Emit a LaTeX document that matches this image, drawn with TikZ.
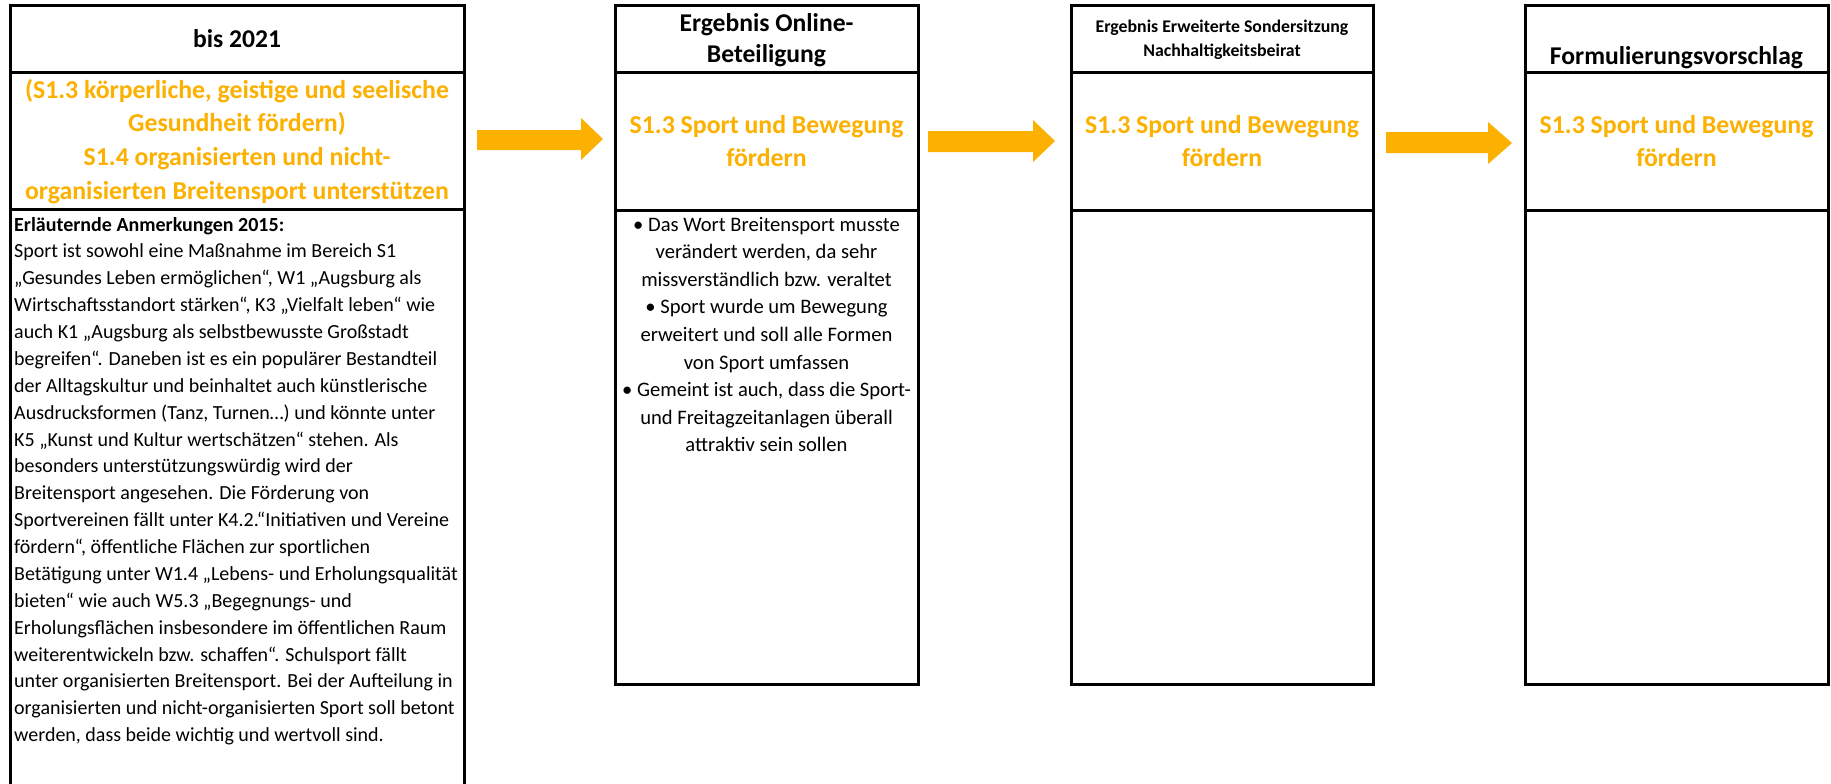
\documentclass[tikz,border=0pt]{standalone}
\usepackage{fontspec}
\setmainfont{Carlito}
\definecolor{gold}{RGB}{252,176,0}
\begin{document}
\begin{tikzpicture}[x=1pt,y=-1pt,
  cell/.style={draw=black, line width=3pt, rectangle, inner sep=0pt},
  hdr/.style={font=\bfseries\fontsize{25.6}{30}\selectfont, anchor=base, inner sep=0pt},
  hdrsmall/.style={font=\bfseries\fontsize{17.8}{21}\selectfont, anchor=base, inner sep=0pt},
  orng/.style={font=\bfseries\fontsize{25.8}{30}\selectfont, text=gold, anchor=base, inner sep=0pt},
  body/.style={font=\fontsize{20}{24}\selectfont, anchor=base west, inner sep=0pt},
  bodyc/.style={font=\fontsize{20.6}{24}\selectfont, anchor=base, inner sep=0pt},
  arrowfill/.style={fill=gold, draw=none}]
\useasboundingbox (0,0) rectangle (1831,784);
\fill[white] (0,0) rectangle (1831,784);
% column 1
\node[cell, minimum width=454pt, minimum height=67pt] (b1h) at (237,39.5) {};
\node[cell, minimum width=454pt, minimum height=136pt] (b1t) at (237,141) {};
\node[cell, minimum width=454pt, minimum height=611pt] (b1b) at (237,514.5) {};
% column 2
\node[cell, minimum width=303pt, minimum height=67pt] (b2h) at (766.5,39.5) {};
\node[cell, minimum width=303pt, minimum height=137pt] (b2t) at (766.5,141.5) {};
\node[cell, minimum width=303pt, minimum height=474pt] (b2b) at (766.5,447) {};
% column 3
\node[cell, minimum width=302pt, minimum height=67pt] (b3h) at (1222,39.5) {};
\node[cell, minimum width=302pt, minimum height=137pt] (b3t) at (1222,141.5) {};
\node[cell, minimum width=302pt, minimum height=474pt] (b3b) at (1222,447) {};
% column 4
\node[cell, minimum width=303pt, minimum height=67pt] (b4h) at (1676.5,39.5) {};
\node[cell, minimum width=303pt, minimum height=137pt] (b4t) at (1676.5,141.5) {};
\node[cell, minimum width=303pt, minimum height=474pt] (b4b) at (1676.5,447) {};
% arrows
\fill[arrowfill] (477,130) -- (581,130) -- (581,118) -- (603,139) -- (581,160) -- (581,150) -- (477,150) -- cycle;
\fill[arrowfill] (928,131) -- (1033,131) -- (1033,120) -- (1055,141) -- (1033,162) -- (1033,152) -- (928,152) -- cycle;
\fill[arrowfill] (1386,132) -- (1488,132) -- (1488,122) -- (1512,143) -- (1488,164) -- (1488,153) -- (1386,153) -- cycle;
% column 1 texts
\node[hdr] (t1) at (237,48) {bis 2021};
\foreach \t [count=\i from 0] in {{(S1.3 körperliche, geistige und seelische}, {Gesundheit fördern)}, {S1.4 organisierten und nicht-}, {organisierten Breitensport unterstützen}}
  \node[orng] (oa\i) at (237,98+33.67*\i) {\t};
\node[body, font=\bfseries\fontsize{20}{24}\selectfont] (ea) at (14,231) {Erläuternde Anmerkungen 2015:};
\foreach \t [count=\i from 1] in {
 {Sport ist sowohl eine Maßnahme im Bereich S1},
 {„Gesundes Leben ermöglichen“, W1 „Augsburg als},
 {Wirtschaftsstandort stärken“, K3 „Vielfalt leben“ wie},
 {auch K1 „Augsburg als selbstbewusste Großstadt},
 {begreifen“. Daneben ist es ein populärer Bestandteil},
 {der Alltagskultur und beinhaltet auch künstlerische},
 {Ausdrucksformen (Tanz, Turnen…) und könnte unter},
 {K5 „Kunst und Kultur wertschätzen“ stehen. Als},
 {besonders unterstützungswürdig wird der},
 {Breitensport angesehen. Die Förderung von},
 {Sportvereinen fällt unter K4.2.“Initiativen und Vereine},
 {fördern“, öffentliche Flächen zur sportlichen},
 {Betätigung unter W1.4 „Lebens- und Erholungsqualität},
 {bieten“ wie auch W5.3 „Begegnungs- und},
 {Erholungsflächen insbesondere im öffentlichen Raum},
 {weiterentwickeln bzw. schaffen“. Schulsport fällt},
 {unter organisierten Breitensport. Bei der Aufteilung in},
 {organisierten und nicht-organisierten Sport soll betont},
 {werden, dass beide wichtig und wertvoll sind.}}
  \node[body] (la\i) at (14,231+26.88*\i) {\t};
% column 2 texts
\node[hdr] (t2a) at (766.5,32) {Ergebnis Online-};
\node[hdr] (t2b) at (766.5,63) {Beteiligung};
\node[orng] (ob1) at (766.5,133) {S1.3 Sport und Bewegung};
\node[orng] (ob2) at (766.5,166) {fördern};
\foreach \t [count=\i from 0] in {
 {• Das Wort Breitensport musste},
 {verändert werden, da sehr},
 {missverständlich bzw. veraltet},
 {• Sport wurde um Bewegung},
 {erweitert und soll alle Formen},
 {von Sport umfassen},
 {• Gemeint ist auch, dass die Sport-},
 {und Freitagzeitanlagen überall},
 {attraktiv sein sollen}}
  \node[bodyc] (lb\i) at (766.5,231+27.6*\i) {\t};
% column 3 texts
\node[hdrsmall] (t3a) at (1222,33) {Ergebnis Erweiterte Sondersitzung};
\node[hdrsmall] (t3b) at (1222,57) {Nachhaltigkeitsbeirat};
\node[orng] (oc1) at (1222,133) {S1.3 Sport und Bewegung};
\node[orng] (oc2) at (1222,166) {fördern};
% column 4 texts
\node[hdr] (t4) at (1676.5,65) {Formulierungsvorschlag};
\node[orng] (od1) at (1676.5,133) {S1.3 Sport und Bewegung};
\node[orng] (od2) at (1676.5,166) {fördern};
\end{tikzpicture}
\end{document}
